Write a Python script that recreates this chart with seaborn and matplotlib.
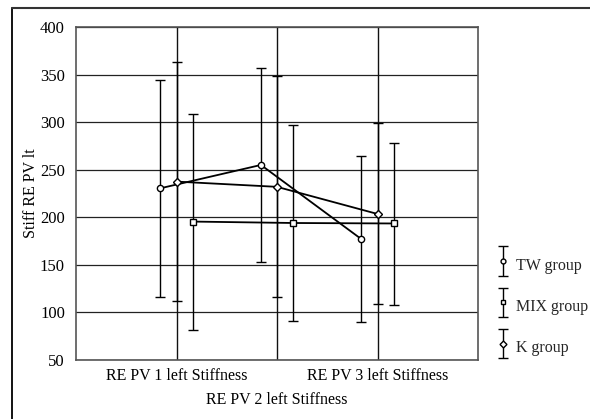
import matplotlib
matplotlib.use("Agg")
import matplotlib.pyplot as plt
import seaborn as sns
import pandas as pd
from matplotlib.container import ErrorbarContainer
from matplotlib.legend_handler import HandlerErrorbar
from matplotlib.lines import Line2D
from matplotlib.transforms import ScaledTranslation

categories = ["RE PV 1 left Stiffness", "RE PV 2 left Stiffness", "RE PV 3 left Stiffness"]
groups = ["TW group", "MIX group", "K group"]
tw_mean = [230.5, 255.0, 177.0]
tw_low = [116.5, 152.5, 89.5]
tw_high = [344.0, 356.5, 264.0]
mix_mean = [195.5, 194.0, 193.5]
mix_low = [81.5, 91.0, 108.0]
mix_high = [309.0, 296.5, 278.0]
k_mean = [237.5, 232.0, 203.5]
k_low = [111.5, 116.0, 108.5]
k_high = [363.0, 348.0, 299.0]

sns.set_theme(style="white")
plt.rcParams["font.family"] = ["Liberation Serif", "DejaVu Serif"]

fig = plt.figure(figsize=(5.9, 4.19), dpi=100)
ax = fig.add_axes([76/590, 1-360/419, 402/590, 333/419])

offsets = {"TW group": -0.16, "MIX group": 0.16, "K group": 0.0}
markers = {"TW group": "o", "MIX group": "s", "K group": "D"}
msizes = {"TW group": 4.5, "MIX group": 4.0, "K group": 4.0}
data = {"TW group": (tw_mean, tw_low, tw_high),
        "MIX group": (mix_mean, mix_low, mix_high),
        "K group": (k_mean, k_low, k_high)}

rows = []
for g in groups:
    m, lo, hi = data[g]
    for i, c in enumerate(categories):
        rows.append({"group": g, "x": i + 1 + offsets[g], "mean": m[i], "low": lo[i], "high": hi[i]})
df = pd.DataFrame(rows)

for yv in range(50, 401, 50):
    ax.axhline(yv, color="#222222", lw=0.9, zorder=0)
for xv in [1, 2, 3]:
    ax.axvline(xv, color="#111111", lw=1.0, zorder=0)

handles = []
for g in groups:
    sub = df[df.group == g]
    sns.lineplot(data=sub, x="x", y="mean", ax=ax, color="black", lw=1.3,
                 legend=False, estimator=None, sort=False, zorder=2)
    eb = ax.errorbar(sub["x"], sub["mean"],
                     yerr=[sub["mean"] - sub["low"], sub["high"] - sub["mean"]],
                     fmt=markers[g], ls="none", color="black", ecolor="black",
                     elinewidth=1.0, capsize=3.4, capthick=1.0, ms=msizes[g],
                     mfc="white", mec="black", mew=1.0, zorder=3, label=g)
    handles.append(eb)

ax.set_xlim(0, 4)
ax.set_ylim(50, 400)
ax.set_yticks(range(50, 401, 50))
ax.set_xticks([1, 2, 3])
ax.set_xticklabels(categories)
ax.tick_params(axis="y", length=0, labelsize=12, colors="black", pad=8)
ax.tick_params(axis="x", length=0, labelsize=11.5, colors="black", pad=6)
lbl = ax.get_xticklabels()[1]
lbl.set_transform(lbl.get_transform() + ScaledTranslation(0, -0.24, fig.dpi_scale_trans))
ax.set_xlabel("")
ax.set_ylabel("Stiff RE PV lt", fontsize=11.5, color="black")
ax.yaxis.set_label_coords(-37/402, 0.5)
for s in ax.spines.values():
    s.set_color("#555555")
    s.set_linewidth(1.2)

leg = fig.legend(handles=handles, labels=groups, loc="center left",
                 bbox_to_anchor=(490/590, 1-306/419), frameon=False,
                 fontsize=11.5, handlelength=0.6, handletextpad=0.5,
                 handleheight=2.0, labelspacing=1.04, borderpad=0,
                 handler_map={ErrorbarContainer: HandlerErrorbar(yerr_size=0.92)})
for ln in leg.findobj(Line2D):
    if ln.get_marker() == "_":
        ln.set_markersize(6.8)
    elif ln.get_marker() in ("o", "s", "D"):
        ln.set_markersize(3.5)

fig.add_artist(Line2D([12/590, 12/590], [0, 1-8/419], transform=fig.transFigure, color="black", lw=1.3))
fig.add_artist(Line2D([12/590, 1], [1-8/419, 1-8/419], transform=fig.transFigure, color="#333333", lw=1.5))

fig.savefig("out.png", dpi=100)
